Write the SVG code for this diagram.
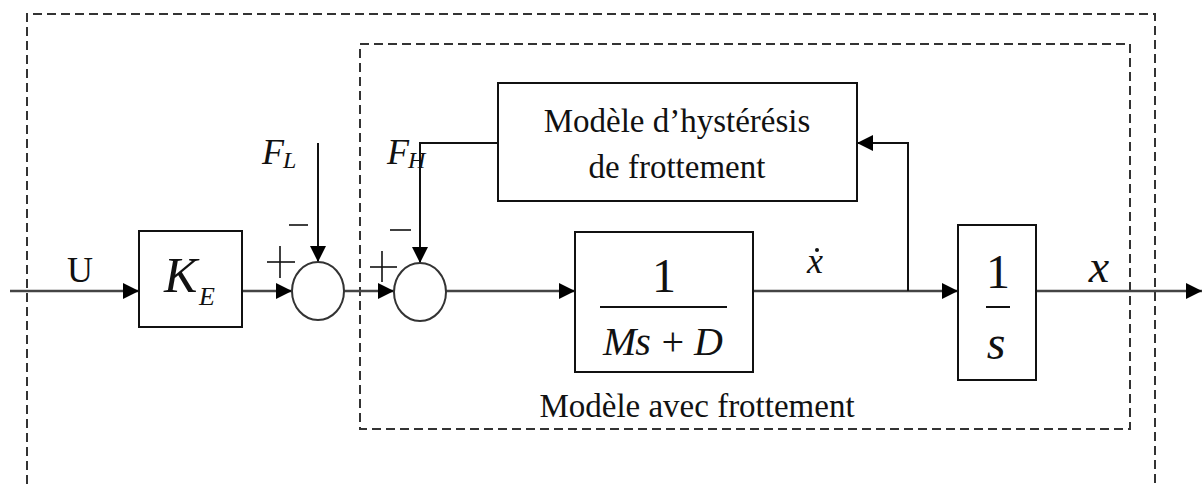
<svg xmlns="http://www.w3.org/2000/svg" width="1203" height="485" viewBox="0 0 1203 485">
<style>
.box{fill:#fff;stroke:#111;stroke-width:2}
.sum{fill:#fff;stroke:#333;stroke-width:2}
.dash{fill:none;stroke:#333;stroke-width:2;stroke-dasharray:9 5}
.ln{fill:none;stroke:#444;stroke-width:2.5}
.lt{fill:none;stroke:#111;stroke-width:2}
.t{font-family:"Liberation Serif","Times New Roman","DejaVu Serif",serif;fill:#111}
.m{font-family:"Liberation Serif","Times New Roman","DejaVu Serif",serif;font-style:italic;fill:#111}
.bar{stroke:#111;stroke-width:2}
.sg{stroke:#111;stroke-width:1.6}
</style>
<defs>
<marker id="ah" viewBox="0 0 16 16" refX="16" refY="8" markerWidth="16" markerHeight="16" markerUnits="userSpaceOnUse" orient="auto">
<path d="M0,0 L16,8 L0,16 Z" fill="#000"/>
</marker>
</defs>
<rect width="1203" height="485" fill="#fff"/>
<g id="outer-frame">
<path class="dash" d="M27,484 L27,14 L1155,14 L1155,484"/>
</g>
<g id="inner-frame">
<rect class="dash" x="360" y="44" width="770" height="385"/>
<text class="t" x="697" y="417" font-size="33" text-anchor="middle">Modèle avec frottement</text>
</g>
<g id="connectors">
<line class="ln" x1="10" y1="291" x2="139" y2="291" marker-end="url(#ah)"/>
<line class="ln" x1="242" y1="291" x2="292" y2="291" marker-end="url(#ah)"/>
<line class="lt" x1="318" y1="143" x2="318" y2="262" marker-end="url(#ah)"/>
<line class="ln" x1="344" y1="291" x2="394" y2="291" marker-end="url(#ah)"/>
<path class="lt" d="M498,143 L420,143 L420,263" marker-end="url(#ah)"/>
<line class="ln" x1="446" y1="291" x2="575" y2="291" marker-end="url(#ah)"/>
<line class="ln" x1="753" y1="291" x2="958" y2="291" marker-end="url(#ah)"/>
<path class="lt" d="M908,291 L908,143 L857,143" marker-end="url(#ah)"/>
<line class="ln" x1="1036" y1="291" x2="1202" y2="291" marker-end="url(#ah)"/>
</g>
<g id="label-U"><text class="t" x="80" y="282" font-size="36" text-anchor="middle">U</text></g>
<g id="block-KE">
<rect class="box" x="139" y="231" width="103" height="96"/>
<text class="m" x="164" y="292" font-size="50">K</text>
<text class="m" x="199" y="305" font-size="26">E</text>
</g>
<g id="sum1">
<ellipse class="sum" cx="318" cy="291" rx="26" ry="29"/>
<text class="m" x="262" y="164" font-size="36">F</text>
<text class="m" x="283" y="168" font-size="24">L</text>
<line class="sg" x1="289" y1="225" x2="308" y2="225"/>
<line class="sg" x1="267" y1="262" x2="295" y2="262"/>
<line class="sg" x1="280" y1="246" x2="280" y2="278"/>
</g>
<g id="sum2">
<ellipse class="sum" cx="420" cy="292" rx="26" ry="29"/>
<text class="m" x="387" y="164" font-size="36">F</text>
<text class="m" x="408" y="168" font-size="24">H</text>
<line class="sg" x1="390" y1="230" x2="411" y2="230"/>
<line class="sg" x1="370" y1="267" x2="397" y2="267"/>
<line class="sg" x1="382" y1="251" x2="382" y2="282"/>
</g>
<g id="block-hysteresis">
<rect class="box" x="498" y="83" width="359" height="118"/>
<text class="t" x="677" y="132" font-size="33" text-anchor="middle">Modèle d’hystérésis</text>
<text class="t" x="677" y="178" font-size="33" text-anchor="middle">de frottement</text>
</g>
<g id="block-plant">
<rect class="box" x="575" y="232" width="178" height="140"/>
<text class="t" x="664" y="292" font-size="48" text-anchor="middle">1</text>
<line class="bar" x1="600" y1="307" x2="727" y2="307"/>
<text class="m" x="603" y="355" font-size="40" textLength="120" lengthAdjust="spacing">Ms + D</text>
</g>
<g id="label-xdot">
<text class="m" x="815" y="273" font-size="36" text-anchor="middle">x</text>
<circle cx="817" cy="250" r="2" fill="#111"/>
</g>
<g id="block-integrator">
<rect class="box" x="958" y="225" width="78" height="155"/>
<text class="t" x="998" y="288" font-size="48" text-anchor="middle">1</text>
<line class="bar" x1="986" y1="307" x2="1010" y2="307"/>
<text class="m" x="996" y="359" font-size="48" text-anchor="middle">s</text>
</g>
<g id="label-x"><text class="m" x="1099" y="282" font-size="46" text-anchor="middle">x</text></g>
</svg>
